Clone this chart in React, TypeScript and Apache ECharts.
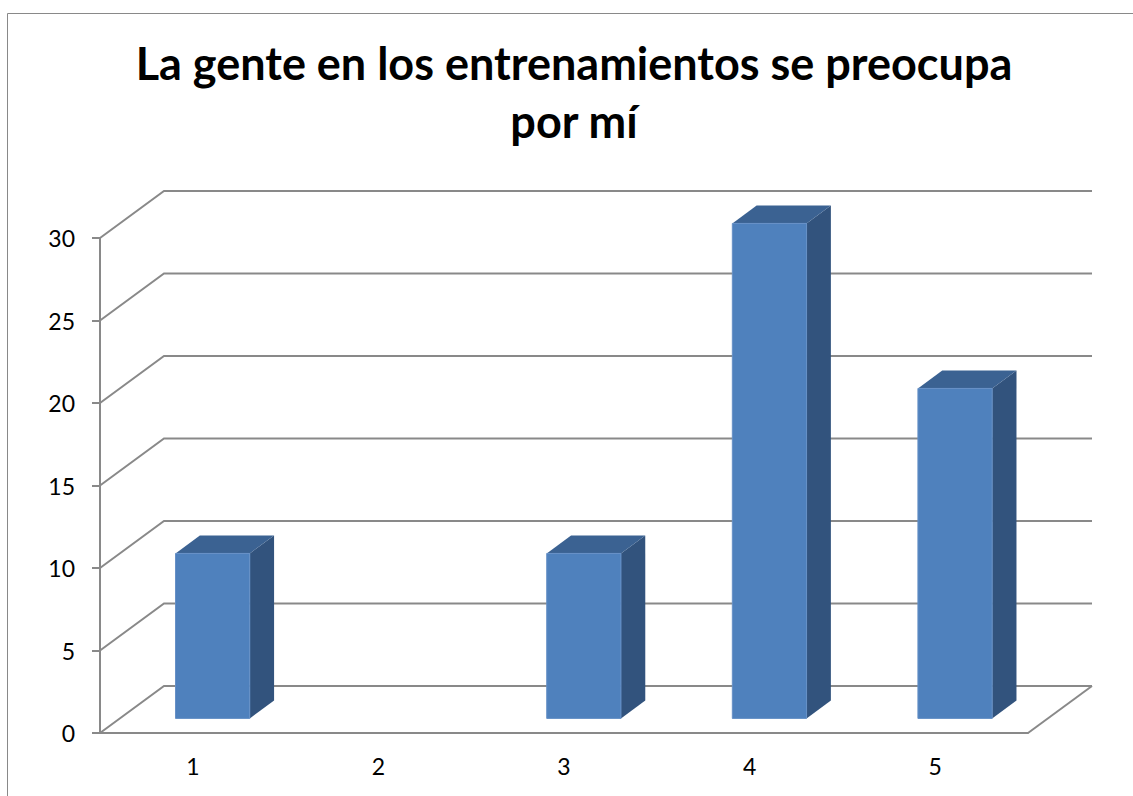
import { useEffect, useRef } from 'react';
import * as echarts from 'echarts';

const categories = ['1', '2', '3', '4', '5'];
const values = [10, 0, 10, 30, 20];
const yTicks = [0, 5, 10, 15, 20, 25, 30];
const titleLines = ['La gente en los entrenamientos se preocupa', 'por mí'];

const DX = 64;
const DY = -47;
const FRONT = 0.31;
const BACK = 0.69;
const LINE = '#898989';
const FONT = 'Lato';

export default function App() {
  const ref = useRef<HTMLDivElement>(null);
  useEffect(() => {
    document.body.style.margin = '0';
    const chart = echarts.init(ref.current!, null, { renderer: 'svg' });

    const wallItem = (params: any, api: any) => {
      const v = api.value(1);
      const cs = params.coordSys;
      const x0 = cs.x;
      const x1 = cs.x + cs.width;
      const y = api.coord([0, v])[1];
      const style = { stroke: LINE, lineWidth: 2, fill: 'none' };
      const children: any[] = [
        {
          type: 'polyline',
          shape: { points: [[x0, y], [x0 + DX, y + DY], [x1 + DX, y + DY]] },
          style,
        },
      ];
      if (v === 0) {
        children.push({
          type: 'line',
          shape: { x1: x1, y1: y, x2: x1 + DX, y2: y + DY },
          style,
        });
      }
      return { type: 'group', children };
    };

    const barItem = (_params: any, api: any) => {
      const i = api.value(0);
      const v = api.value(1);
      if (!v) return null;
      const top = api.coord([i, v]);
      const base = api.coord([i, 0]);
      const w = api.size([1, 0])[0] * 0.4;
      const fx = FRONT * DX;
      const fy = FRONT * DY;
      const bx = (BACK - FRONT) * DX;
      const by = (BACK - FRONT) * DY;
      const L = top[0] - w / 2 + fx;
      const R = top[0] + w / 2 + fx;
      const T = top[1] + fy;
      const B = base[1] + fy;
      return {
        type: 'group',
        children: [
          {
            type: 'polygon',
            shape: { points: [[R, T], [R + bx, T + by], [R + bx, B + by], [R, B]] },
            style: { fill: '#32537D' },
          },
          {
            type: 'polygon',
            shape: { points: [[L, T], [R, T], [R + bx, T + by], [L + bx, T + by]] },
            style: { fill: '#3B6292' },
          },
          {
            type: 'rect',
            shape: { x: L, y: T, width: R - L, height: B - T },
            style: { fill: '#4F81BD', stroke: '#6690C6', lineWidth: 1 },
          },
        ],
      };
    };

    chart.setOption({
      animation: false,
      backgroundColor: '#ffffff',
      title: {
        text: titleLines.join('\n'),
        left: 569,
        top: 29,
        textAlign: 'center',
        textStyle: {
          fontFamily: FONT,
          fontWeight: 'bold',
          fontSize: 45,
          lineHeight: 58,
          color: '#000000',
        },
      },
      graphic: [
        {
          type: 'rect',
          silent: true,
          shape: { x: 7.5, y: 13.5, width: 1400, height: 1000 },
          style: { fill: 'none', stroke: LINE, lineWidth: 1 },
        },
      ],
      grid: { left: 100, top: 238, width: 928, height: 495 },
      xAxis: {
        type: 'category',
        data: categories,
        axisLine: { lineStyle: { color: LINE, width: 2 } },
        axisTick: { length: 8, lineStyle: { color: LINE, width: 2 } },
        axisLabel: { margin: 21, color: '#000', fontFamily: FONT, fontSize: 23 },
        splitLine: { show: false },
      },
      yAxis: {
        type: 'value',
        min: 0,
        max: 30,
        interval: 5,
        axisLine: { show: true, lineStyle: { color: LINE, width: 2 } },
        axisTick: { show: true, length: 8, lineStyle: { color: LINE, width: 2 } },
        axisLabel: { margin: 25, color: '#000', fontFamily: FONT, fontSize: 23 },
        splitLine: { show: false },
      },
      series: [
        {
          type: 'custom',
          data: yTicks.map((v) => [0, v]),
          encode: { x: 0, y: 1 },
          renderItem: wallItem,
          silent: true,
          z: 1,
        },
        {
          type: 'custom',
          data: values.map((v, i) => [i, v]),
          encode: { x: 0, y: 1 },
          renderItem: barItem,
          z: 3,
        },
      ],
    });
    return () => chart.dispose();
  }, []);
  return <div ref={ref} style={{ width: 1133, height: 796 }} />;
}
